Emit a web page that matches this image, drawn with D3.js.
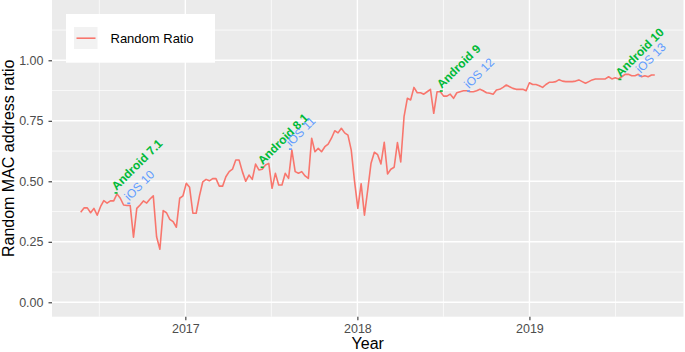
<!DOCTYPE html>
<html><head><meta charset="utf-8">
<script src="https://cdn.jsdelivr.net/npm/d3@7"></script>
<style>body{margin:0;background:#fff;} svg{display:block;font-family:"Liberation Sans",Arial,Helvetica,sans-serif;}</style>
</head><body><svg id="c" width="685" height="352"></svg>
<script>
// ---- data ----
const startDate = "2016-05-24"; // first weekly observation
const ratio = [
0.372,0.39,0.39,0.37,0.388,0.36,0.395,0.42,0.41,0.419,0.419,0.448,0.43,0.402,0.40,0.40,0.269,0.388,0.402,0.419,
0.41,0.427,0.44,0.271,0.219,0.379,0.37,0.343,0.333,0.31,0.43,0.44,0.492,0.475,0.368,0.368,
0.44,0.498,0.508,0.502,0.511,0.511,0.48,0.48,0.519,0.54,0.55,0.588,0.588,0.54,0.50,0.526,0.508,0.571,0.547,0.55,
0.567,0.574,0.471,0.533,0.485,0.485,0.533,0.512,0.629,0.54,0.533,0.54,0.522,
0.512,0.678,0.622,0.636,0.622,0.643,0.654,0.678,0.709,0.70,0.719,0.70,0.691,0.629,
0.50,
0.388,0.49,0.36,0.465,0.575,0.62,0.61,0.572,0.661,0.53,0.55,0.558,0.66,0.58,
0.767,0.843,0.836,0.888,0.866,0.866,0.86,0.87,0.88,0.781,0.87,0.87,0.852,0.852,0.86,0.843,0.866,0.87,0.874,0.874,
0.87,0.87,0.874,0.88,0.874,0.866,0.864,0.86,0.877,0.88,0.888,0.898,0.891,0.884,0.88,0.88,0.88,0.874,0.907,0.90,
0.90,0.895,0.888,0.90,0.909,0.909,0.912,0.92,0.914,0.912,0.912,0.912,0.914,0.919,0.912,0.905,0.912,0.919,0.923,0.923,
0.923,0.923,0.932,0.923,0.928,0.923,0.932,0.942,0.942,0.936,0.936,0.942,0.932,0.936,0.932,0.939,0.939
];
const seriesName = "Random Ratio";
const yTicks = [0, 0.25, 0.5, 0.75, 1];
const yTickLabels = ["0.00", "0.25", "0.50", "0.75", "1.00"];
const xTickYears = ["2017", "2018", "2019"];
const annLabels = ["Android 7.1", "iOS 10", "Android 8.1", "iOS 11", "Android 9", "iOS 12", "Android 10", "iOS 13"];
const annDates  = ["2016-08-07", "2016-09-03", "2017-06-13", "2017-08-12", "2018-06-28", "2018-08-25", "2019-07-12", "2019-08-24"];
const annValues = [0.452, 0.409, 0.558, 0.633, 0.873, 0.873, 0.921, 0.936];
const annOS     = ["android", "ios", "android", "ios", "android", "ios", "android", "ios"];
const xTitle = "Year", yTitle = "Random MAC address ratio";

// ---- setup ----
const parse = d3.utcParse("%Y-%m-%d");
const t0 = parse(startDate);
const data = ratio.map((v, i) => ({date: d3.utcDay.offset(t0, 7 * i), v}));
const P = {l: 52, r: 683.5, t: 0, b: 316.7};
const ext = d3.extent(data, d => d.date);
const span = ext[1] - ext[0];
const x = d3.scaleUtc()
  .domain([new Date(+ext[0] - 0.05 * span), new Date(+ext[1] + 0.05 * span)])
  .range([P.l, P.r]);
const y = d3.scaleLinear().domain([0, 1]).range([302.3, 60.3]);
const osColor = {android: "#00BA38", ios: "#619CFF"};

const svg = d3.select("#c");
svg.append("rect").attr("x", P.l).attr("y", P.t).attr("width", P.r - P.l).attr("height", P.b - P.t).attr("fill", "#EBEBEB");

// grid
const majorX = xTickYears.map(s => d3.utcParse("%Y")(s));
const step = majorX[1] - majorX[0];
const minorX = [new Date(+majorX[0] - step / 2)];
for (let i = 0; i < majorX.length - 1; i++) minorX.push(new Date((+majorX[i] + +majorX[i + 1]) / 2));
minorX.push(new Date(+majorX[majorX.length - 1] + step / 2));
const minorY = [];
for (let i = 0; i < yTicks.length; i++) minorY.push(yTicks[i] + 0.125);

const grid = svg.append("g");
grid.selectAll(".mx").data(minorX.filter(d => x(d) > P.l && x(d) < P.r)).join("line")
  .attr("x1", d => x(d)).attr("x2", d => x(d)).attr("y1", P.t).attr("y2", P.b)
  .attr("stroke", "#fff").attr("stroke-width", 0.7);
grid.selectAll(".my").data(minorY.filter(d => y(d) > P.t)).join("line")
  .attr("x1", P.l).attr("x2", P.r).attr("y1", d => y(d)).attr("y2", d => y(d))
  .attr("stroke", "#fff").attr("stroke-width", 0.7);
grid.selectAll(".MX").data(majorX).join("line")
  .attr("x1", d => x(d)).attr("x2", d => x(d)).attr("y1", P.t).attr("y2", P.b)
  .attr("stroke", "#fff").attr("stroke-width", 1.4);
grid.selectAll(".MY").data(yTicks).join("line")
  .attr("x1", P.l).attr("x2", P.r).attr("y1", d => y(d)).attr("y2", d => y(d))
  .attr("stroke", "#fff").attr("stroke-width", 1.4);

// line
svg.append("path").datum(data)
  .attr("d", d3.line().x(d => x(d.date)).y(d => y(d.v)))
  .attr("fill", "none").attr("stroke", "#F8766D").attr("stroke-width", 1.6).attr("stroke-linejoin", "round");

// annotations
const ann = svg.append("g");
annLabels.forEach((lab, i) => {
  const px = x(parse(annDates[i])), py = y(annValues[i]);
  const col = osColor[annOS[i]];
  ann.append("line").attr("x1", px - 1.5).attr("x2", px + 1.5).attr("y1", py).attr("y2", py)
    .attr("stroke", col).attr("stroke-width", 1.6);
  ann.append("text").attr("transform", `translate(${px + 0.5},${py - 2}) rotate(-45)`)
    .attr("fill", col).attr("font-size", 12).attr("font-weight", annOS[i] === "android" ? "bold" : "normal")
    .text(lab);
});

// axes
const xAxis = svg.append("g").attr("transform", `translate(0,${P.b})`)
  .call(d3.axisBottom(x).tickValues(majorX).tickFormat(d3.utcFormat("%Y")).tickSize(3.5).tickPadding(4));
const yAxis = svg.append("g").attr("transform", `translate(${P.l},0)`)
  .call(d3.axisLeft(y).tickValues(yTicks).tickFormat((d, i) => yTickLabels[i]).tickSize(3.5).tickPadding(5));
[xAxis, yAxis].forEach(a => {
  a.select(".domain").remove();
  a.selectAll(".tick line").attr("stroke", "#333333").attr("stroke-width", 1.1);
  a.selectAll(".tick text").attr("fill", "#4D4D4D").attr("font-size", 12.5).attr("font-family", null);
});

// titles
svg.append("text").attr("x", (P.l + P.r) / 2).attr("y", 349).attr("text-anchor", "middle")
  .attr("font-size", 16).attr("fill", "#000").text(xTitle);
svg.append("text").attr("transform", `translate(13.5,${(P.t + P.b) / 2}) rotate(-90)`).attr("text-anchor", "middle")
  .attr("font-size", 16).attr("fill", "#000").text(yTitle);

// legend
const lg = svg.append("g");
lg.append("rect").attr("x", 66).attr("y", 14).attr("width", 149).attr("height", 48.7).attr("fill", "#fff");
lg.append("rect").attr("x", 74).attr("y", 27).attr("width", 23.5).attr("height", 22).attr("fill", "#F2F2F2");
lg.append("line").attr("x1", 76.5).attr("x2", 95.5).attr("y1", 38.2).attr("y2", 38.2)
  .attr("stroke", "#F8766D").attr("stroke-width", 1.6);
lg.append("text").attr("x", 110.5).attr("y", 42.8).attr("font-size", 13).attr("fill", "#000").text(seriesName);
</script></body></html>
